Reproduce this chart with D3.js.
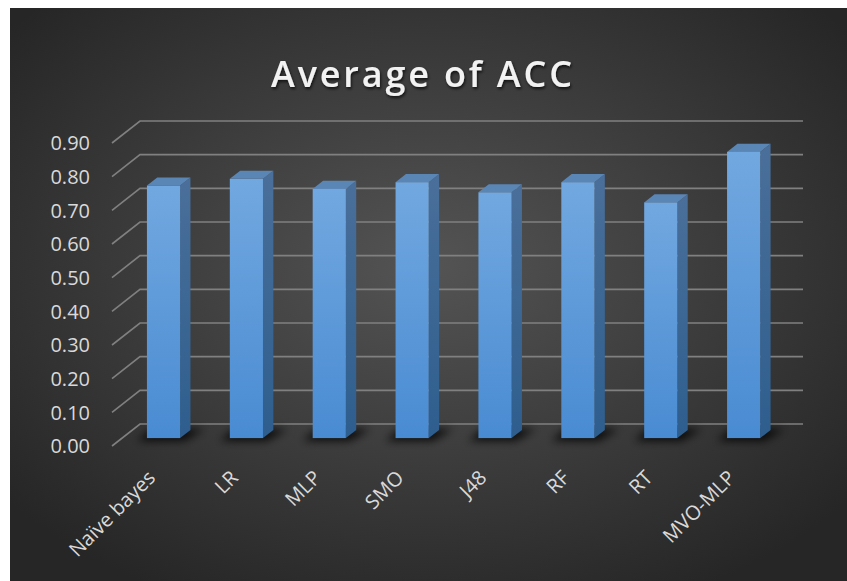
<!DOCTYPE html>
<html><head><meta charset="utf-8">
<script src="https://cdn.jsdelivr.net/npm/d3@7"></script>
<style>body{margin:0;background:#fff}svg{display:block}</style></head>
<body>
<script>
const categories = ["Naïve bayes","LR","MLP","SMO","J48","RF","RT","MVO-MLP"];
const accValues = [0.75,0.77,0.74,0.76,0.73,0.76,0.70,0.85];
const yTicks = [0.0,0.1,0.2,0.3,0.4,0.5,0.6,0.7,0.8,0.9];
const chartTitle = "Average of ACC";

const W = 847, H = 581;
const svg = d3.select("body").append("svg").attr("width", W).attr("height", H);
const defs = svg.append("defs");

const bg = defs.append("radialGradient").attr("id","bg").attr("cx","50%").attr("cy","45%").attr("r","65%");
bg.append("stop").attr("offset","0%").attr("stop-color","#545454");
bg.append("stop").attr("offset","100%").attr("stop-color","#262626");

const fg = defs.append("linearGradient").attr("id","front").attr("x1",0).attr("y1",0).attr("x2",0).attr("y2",1);
fg.append("stop").attr("offset","0%").attr("stop-color","#72a8e0");
fg.append("stop").attr("offset","100%").attr("stop-color","#498bd2");
const sg = defs.append("linearGradient").attr("id","side").attr("x1",0).attr("y1",0).attr("x2",0).attr("y2",1);
sg.append("stop").attr("offset","0%").attr("stop-color","#4a6f9a");
sg.append("stop").attr("offset","100%").attr("stop-color","#2e5e8e");

const blur = defs.append("filter").attr("id","blur").attr("x","-50%").attr("y","-100%").attr("width","200%").attr("height","300%");
blur.append("feGaussianBlur").attr("stdDeviation",4);

const ts = defs.append("filter").attr("id","tshadow").attr("x","-10%").attr("y","-30%").attr("width","120%").attr("height","160%");
ts.append("feDropShadow").attr("dx",1).attr("dy",2).attr("stdDeviation",1.5).attr("flood-color","#000").attr("flood-opacity",0.7);

svg.append("rect").attr("x",10).attr("y",8).attr("width",W-10).attr("height",H-8).attr("fill","url(#bg)");

const x = d3.scaleBand().domain(categories).range([112,775]);
const y = d3.scaleLinear().domain([0,0.9]).range([446,143]);
const DX = 28, DY = -22;
const d1 = 0.36, d2 = 0.73;

// gridlines (side wall diagonal + back wall horizontal)
svg.append("g").selectAll("path").data(yTicks).join("path")
  .attr("d", t => `M${x.range()[0]},${y(t)} L${x.range()[0]+DX},${y(t)+DY} L${x.range()[1]+DX},${y(t)+DY}`)
  .attr("fill","none").attr("stroke","#808080").attr("stroke-width",1.6);

// y labels
svg.append("g").selectAll("text").data(yTicks).join("text")
  .attr("x",90).attr("y",t=>y(t)).attr("dy","0.36em")
  .attr("text-anchor","end").attr("font-family","'Open Sans', sans-serif").attr("font-size",20)
  .attr("fill","#d9d9d9").text(d3.format(".2f"));

const bars = categories.map((c,i)=>{
  const bw = x.bandwidth()*0.4;
  const x0 = x(c) + x.bandwidth()/2 - bw/2;
  return {c, v: accValues[i], x0, bw, yv: y(accValues[i]), y0: y(0)};
});

// floor shadows
svg.append("g").attr("filter","url(#blur)").selectAll("polygon").data(bars).join("polygon")
  .attr("points", b => [
    [b.x0+DX*d1-10, b.y0+DY*d1+3],
    [b.x0+b.bw+DX*d1+4, b.y0+DY*d1+3],
    [b.x0+b.bw+DX*d2+14, b.y0+DY*d2-1],
    [b.x0+DX*d2-6, b.y0+DY*d2-1]
  ].map(p=>p.join(",")).join(" "))
  .attr("fill","#000").attr("opacity",0.8);

const bg2 = svg.append("g");
bars.forEach(b=>{
  const g = bg2.append("g");
  g.append("polygon").attr("points", [
    [b.x0+b.bw+DX*d1, b.yv+DY*d1],
    [b.x0+b.bw+DX*d2, b.yv+DY*d2],
    [b.x0+b.bw+DX*d2, b.y0+DY*d2],
    [b.x0+b.bw+DX*d1, b.y0+DY*d1]
  ].map(p=>p.join(",")).join(" ")).attr("fill","url(#side)");
  g.append("polygon").attr("points", [
    [b.x0+DX*d1, b.yv+DY*d1],
    [b.x0+b.bw+DX*d1, b.yv+DY*d1],
    [b.x0+b.bw+DX*d2, b.yv+DY*d2],
    [b.x0+DX*d2, b.yv+DY*d2]
  ].map(p=>p.join(",")).join(" ")).attr("fill","#5a86b6");
  g.append("rect").attr("x", b.x0+DX*d1).attr("y", b.yv+DY*d1)
    .attr("width", b.bw).attr("height", b.y0-b.yv).attr("fill","url(#front)");
});

// x labels
svg.append("g").selectAll("text").data(categories).join("text")
  .attr("transform", c => `translate(${x(c)+x.bandwidth()/2+3},479) rotate(-45)`)
  .attr("text-anchor","end").attr("font-family","'Open Sans', sans-serif").attr("font-size",20)
  .attr("fill","#d9d9d9").text(c=>c);

// title
svg.append("text").attr("x",421.5).attr("y",87).attr("text-anchor","middle")
  .attr("font-family","'Open Sans', sans-serif").attr("font-weight",600).attr("font-size",36)
  .attr("textLength",301).attr("lengthAdjust","spacing")
  .attr("fill","#f2f2f2").attr("filter","url(#tshadow)").text(chartTitle);
</script>
</body></html>
